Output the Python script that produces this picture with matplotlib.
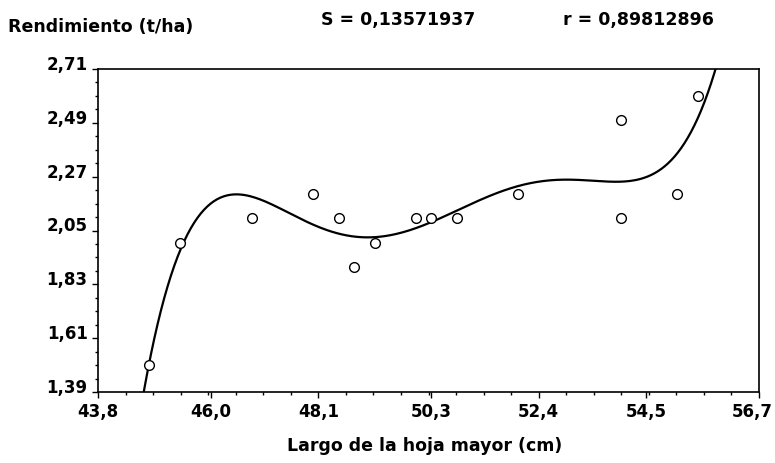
import numpy as np
import matplotlib.pyplot as plt
from matplotlib.ticker import FixedLocator

plt.rcParams['font.family'] = ['DejaVu Sans']
plt.rcParams['font.weight'] = 'bold'

# observed points: leaf length (cm) vs yield (t/ha)
largo = [44.8, 45.4, 46.8, 48.0, 48.5, 48.8, 49.2, 50.0, 50.3, 50.8, 52.0, 54.0, 54.0, 55.1, 55.5]
rend = [1.5, 2.0, 2.1, 2.2, 2.1, 1.9, 2.0, 2.1, 2.1, 2.1, 2.2, 2.5, 2.1, 2.2, 2.6]

xticks = [43.8, 46.0, 48.1, 50.3, 52.4, 54.5, 56.7]
xlabels = ['43,8', '46,0', '48,1', '50,3', '52,4', '54,5', '56,7']
yticks = [1.39, 1.61, 1.83, 2.05, 2.27, 2.49, 2.71]
ylabels = ['1,39', '1,61', '1,83', '2,05', '2,27', '2,49', '2,71']

# degree 5 polynomial fit drawn as the smooth curve
coef = np.polyfit(largo, rend, 5)
xs = np.linspace(43.8, 56.7, 400)
ys = np.polyval(coef, xs)

fig = plt.figure(figsize=(7.75, 4.64), dpi=100)
ax = fig.add_axes([98/775, 1 - 393/464, (759 - 98)/775, (393 - 70)/464])

ax.plot(xs, ys, color='black', lw=1.6)
ax.plot(largo, rend, 'o', mfc='white', mec='black', ms=7, mew=1)

ax.set_xlim(43.8, 56.7)
ax.set_ylim(1.39, 2.71)
ax.set_xticks(xticks)
# last label sits against the right edge of the image, drawn separately below
ax.set_xticklabels(xlabels[:-1] + [''])
ax.set_yticks(yticks)
ax.set_yticklabels(ylabels)
ax.xaxis.set_minor_locator(FixedLocator(np.linspace(43.8, 56.7, 25)))
ax.yaxis.set_minor_locator(FixedLocator(np.linspace(1.39, 2.71, 25)))
ax.tick_params(which='major', length=4.5, width=1, labelsize=12, pad=3)
ax.tick_params(which='minor', length=2.5, width=1)
for lab in ax.get_yticklabels():
    lab.set_va('baseline')
for s in ax.spines.values():
    s.set_linewidth(1.2)

fig.canvas.draw()
lab0 = ax.get_xticklabels()[0].get_window_extent()
fig.text(773/775, (lab0.y0 + lab0.y1) / 2 / fig.bbox.height, xlabels[-1],
         fontsize=12, ha='right', va='center')

fig.text(8/775, 1 - 27/464, 'Rendimiento (t/ha)', fontsize=12.5, ha='left', va='center')
fig.text(398/775, 1 - 20/464, 'S = 0,13571937', fontsize=12.5, ha='center', va='center')
fig.text(638/775, 1 - 20/464, 'r = 0,89812896', fontsize=12.5, ha='center', va='center')
fig.text(425/775, 1 - 446/464, 'Largo de la hoja mayor (cm)', fontsize=12.5, ha='center', va='center')

fig.savefig('out.png', dpi=100)
